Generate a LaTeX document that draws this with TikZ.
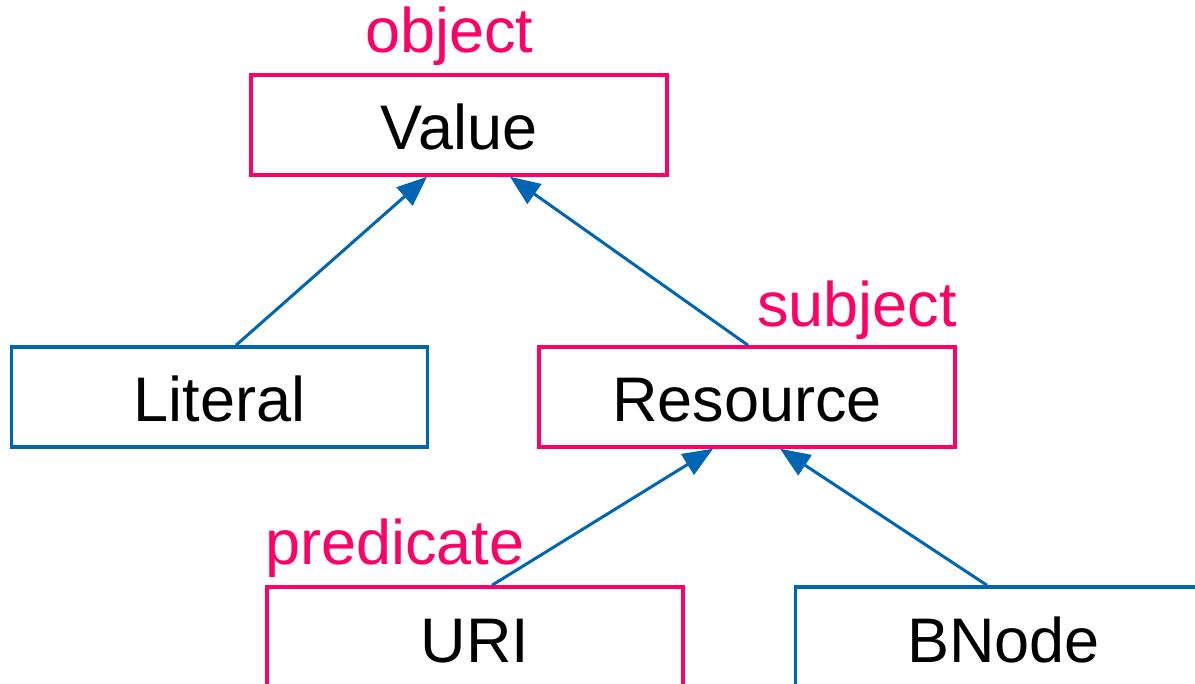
\documentclass[tikz,border=0pt]{standalone}
\usepackage{fontspec}
\setmainfont{Liberation Sans}
\usetikzlibrary{arrows.meta}
\definecolor{rolepink}{HTML}{FF0066}
\definecolor{linkblue}{HTML}{0066B3}
\tikzset{
  classbox/.style={draw, line width=3.5pt, fill=white, minimum width=416pt, minimum height=100pt,
    inner sep=0pt, text height=50pt, text depth=0pt,
    font=\fontsize{63}{70}\selectfont},
  rolebox/.style={classbox, draw=rolepink},
  plainbox/.style={classbox, draw=linkblue},
  rolelabel/.style={anchor=base west, inner sep=0pt, text=rolepink,
    font=\fontsize{63}{70}\selectfont},
  isa/.style={draw=linkblue, line width=3pt, -{Triangle[length=30pt,width=24pt]}}
}
\begin{document}
\begin{tikzpicture}[x=1pt,y=-1pt]
  \useasboundingbox (0,0) rectangle (1195,684);
  \clip (0,0) rectangle (1195,684);

  % class hierarchy
  \node[rolebox]  (value)    at (459,125)    {Value};
  \node[plainbox] (literal)  at (219.5,397)  {Literal};
  \node[rolebox]  (resource) at (747,397)    {Resource};
  \node[rolebox]  (uri)      at (475,637)    {URI};
  \node[plainbox] (bnode)    at (1003.5,637) {BNode};

  % statement roles
  \node[rolelabel] (objlbl)  at (365,53)  {object};
  \node[rolelabel] (subjlbl) at (757,327) {subject};
  \node[rolelabel] (predlbl) at (265,565) {predicate};

  % generalisation links
  \draw[isa] ([xshift=16.5pt]literal.north) -- ([xshift=-32pt]value.south);
  \draw[isa] ([xshift=1pt]resource.north)   -- ([xshift=51pt]value.south);
  \draw[isa] ([xshift=17pt]uri.north)       -- ([xshift=-34pt]resource.south);
  \draw[isa] ([xshift=-16.5pt]bnode.north)  -- ([xshift=33pt]resource.south);
\end{tikzpicture}
\end{document}
